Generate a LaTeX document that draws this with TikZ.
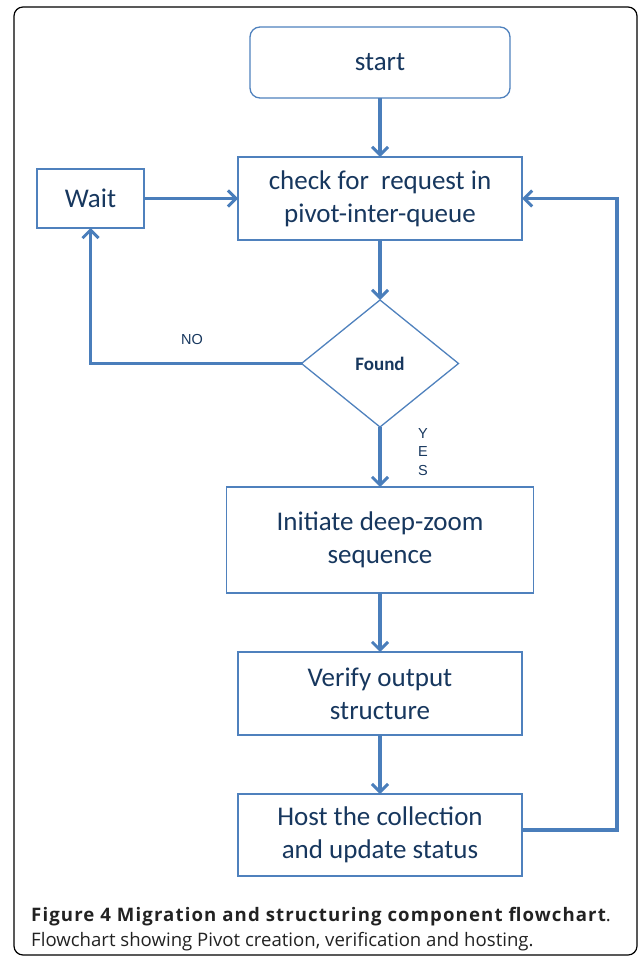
\documentclass[tikz,border=0pt]{standalone}
\usepackage{fontspec}
\setmainfont{Carlito}
\newfontfamily\capfont{Open Sans}
\newfontfamily\lblfont{Liberation Sans}
\usetikzlibrary{positioning,shapes.geometric,arrows.meta}
\definecolor{boxblue}{RGB}{79,129,189}
\definecolor{arrowblue}{RGB}{74,126,187}
\definecolor{boxtext}{RGB}{23,55,94}
\definecolor{captext}{RGB}{34,34,34}
\begin{document}
\begin{tikzpicture}[x=1pt,y=-1pt,
				block/.style={draw=boxblue,line width=1.3pt,rectangle,outer sep=0pt,inner sep=0pt,
					align=center,text=boxtext,font=\fontsize{27}{33}\selectfont},
				flow/.style={draw=arrowblue,line width=3.8pt,-{Straight Barb[length=8pt,width=16pt,line width=3pt]}},
				node distance=59pt]
				\useasboundingbox (0,0) rectangle (638,957);
				\draw[line width=1.2pt,rounded corners=9pt] (14,7) rectangle (637,955);
				\node (START)  [block,rounded corners=10pt,minimum width=260pt,minimum height=71pt] at (380,62.5) {start};
				\node (CHECK)  [block,minimum width=284pt,minimum height=83pt,below=of START] {check for~ request in\\pivot-inter-queue};
				\node (WAIT)   [block,minimum width=107pt,minimum height=59pt,left=94pt of CHECK] {Wait};
				\node (FOUND)  [block,diamond,minimum width=157pt,minimum height=127pt,below=60pt of CHECK,
					font=\bfseries\fontsize{19}{22}\selectfont] {Found};
				\node (INIT)   [block,minimum width=307pt,minimum height=106pt,below=60pt of FOUND] {Initiate deep-zoom\\sequence};
				\node (VERIFY) [block,minimum width=284pt,minimum height=83pt,below=of INIT] {Verify output\\structure};
				\node (HOST)   [block,minimum width=284pt,minimum height=82pt,below=of VERIFY] {Host the collection\\and update status};
				\node (NO)  [text=boxtext,font=\lblfont\fontsize{14.5}{14.5}\selectfont] at (192,340) {NO};
				\node (YES) [text=boxtext,font=\lblfont\fontsize{14.5}{18.5}\selectfont,align=center] at (423,452) {Y\\E\\S};
				\coordinate (RET) at (617,830);

				\draw[flow] (START) -- (CHECK);
				\draw[flow] (CHECK) -- (FOUND);
				\draw[flow] (FOUND) -- (INIT);
				\draw[flow] (INIT) -- (VERIFY);
				\draw[flow] (VERIFY) -- (HOST);
				\draw[flow] (WAIT) -- (CHECK);
				\draw[flow] (FOUND.west) -| (WAIT.south);
				\draw[flow] (HOST.east |- RET) -- (RET) |- (CHECK.east);
				\node (CAP) [anchor=north west,align=left,text=captext,inner sep=0pt,
					font=\capfont\fontsize{18.6}{25}\selectfont] at (31,907)
					{{\addfontfeatures{LetterSpace=6}\bfseries Figure 4 Migration and structuring component flowchart}.\\
					{\addfontfeatures{Weight=300}Flowchart showing Pivot creation, verification and hosting.}};
\end{tikzpicture}
\end{document}
